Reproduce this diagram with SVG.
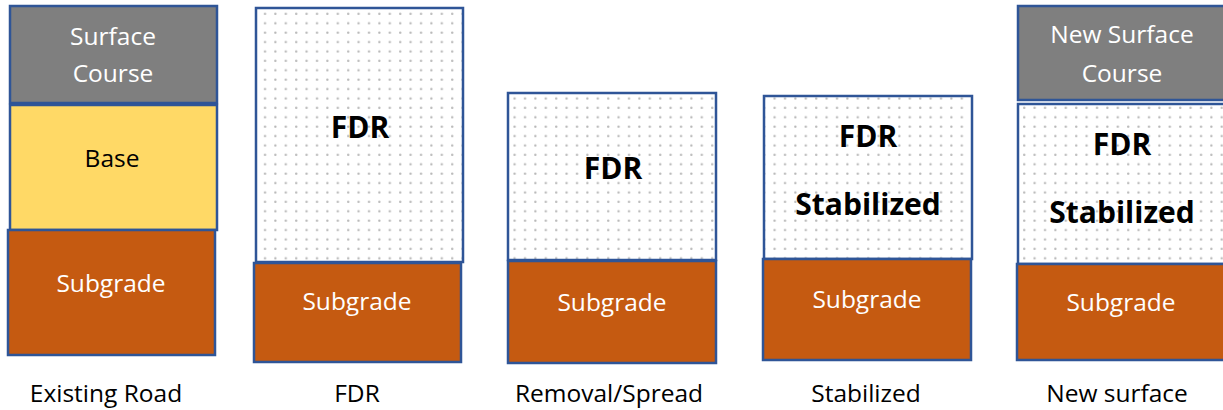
<svg xmlns="http://www.w3.org/2000/svg" width="1223" height="410" viewBox="0 0 1223 410">
<defs>
<pattern id="dots" x="0" y="0" width="10.4" height="9.4" patternUnits="userSpaceOnUse">
<circle cx="5" cy="4.5" r="1.2" fill="#b8b8b8"/>
</pattern>
<style>
.box{stroke:#2F5597;stroke-width:2.5}
.surf{fill:#7F7F7F}
.base{fill:#FFD966}
.sub{fill:#C55A11}
.fdr{fill:url(#dots)}
.bg{fill:#fff}
text{font-family:"Open Sans","Noto Sans","Liberation Sans",sans-serif;text-anchor:middle}
.w{fill:#fff;font-size:24.5px}
.k{fill:#000;font-size:24.5px}
.b{fill:#000;font-size:30px;font-weight:bold}
.lab{fill:#000;font-size:24.5px}
</style>
</defs>
<rect width="1223" height="410" fill="#fff"/>
<g id="existing-road">
<rect class="box surf" x="10" y="6" width="207" height="97"/>
<text class="w" x="113" y="45">Surface</text>
<text class="w" x="113" y="82">Course</text>
<rect class="box base" x="10" y="105" width="207" height="125"/>
<text class="k" x="112" y="167">Base</text>
<rect class="box sub" x="8" y="230" width="207" height="125"/>
<text class="w" x="111" y="292">Subgrade</text>
<text class="lab" x="106" y="402">Existing Road</text>
</g>
<g id="fdr">
<rect class="bg" x="256" y="8" width="207" height="254"/>
<rect class="box fdr" x="256" y="8" width="207" height="254"/>
<text class="b" x="360" y="138">FDR</text>
<rect class="box sub" x="254" y="263" width="207" height="99"/>
<text class="w" x="357" y="310">Subgrade</text>
<text class="lab" x="357" y="402">FDR</text>
</g>
<g id="removal-spread">
<rect class="bg" x="508" y="93" width="208" height="167"/>
<rect class="box fdr" x="508" y="93" width="208" height="167"/>
<text class="b" x="613" y="179">FDR</text>
<rect class="box sub" x="508" y="261" width="208" height="102"/>
<text class="w" x="612" y="311">Subgrade</text>
<text class="lab" x="609" y="402">Removal/Spread</text>
</g>
<g id="stabilized">
<rect class="bg" x="764" y="96" width="208" height="163"/>
<rect class="box fdr" x="764" y="96" width="208" height="163"/>
<text class="b" x="868" y="147">FDR</text>
<text class="b" x="868" y="215">Stabilized</text>
<rect class="box sub" x="763" y="259" width="208" height="101"/>
<text class="w" x="867" y="308">Subgrade</text>
<text class="lab" x="866" y="402">Stabilized</text>
</g>
<g id="new-surface">
<rect class="box surf" x="1018" y="6" width="210" height="94"/>
<text class="w" x="1122" y="43">New Surface</text>
<text class="w" x="1122" y="82">Course</text>
<rect class="bg" x="1018" y="104" width="210" height="160"/>
<rect class="box fdr" x="1018" y="104" width="210" height="160"/>
<text class="b" x="1122" y="155">FDR</text>
<text class="b" x="1122" y="223">Stabilized</text>
<rect class="box sub" x="1017" y="264" width="210" height="96"/>
<text class="w" x="1121" y="311">Subgrade</text>
<text class="lab" x="1117" y="402">New surface</text>
</g>
<g id="connectors"/>
</svg>
